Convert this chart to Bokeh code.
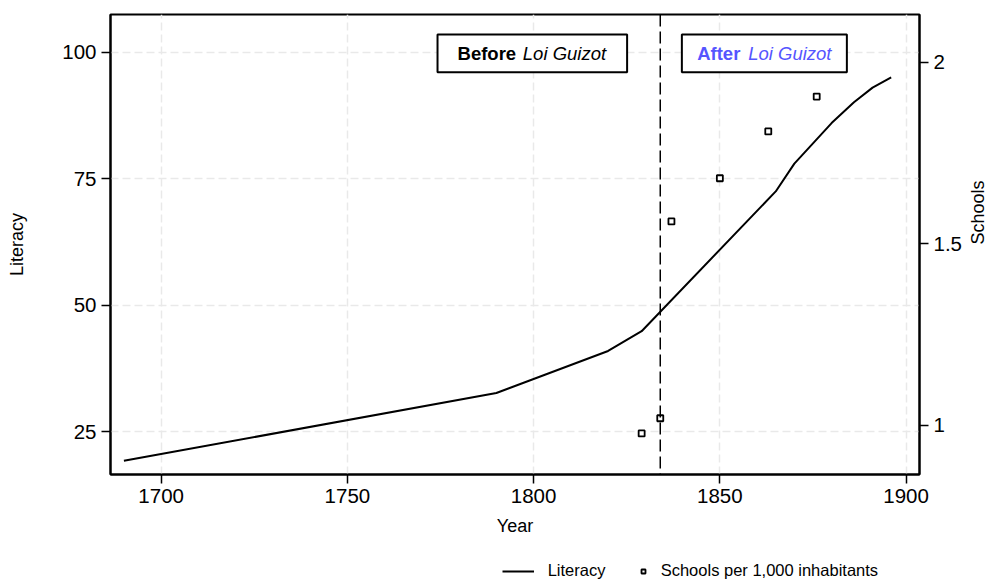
from bokeh.plotting import figure
from bokeh.layouts import column
from bokeh.models import (Range1d, LinearAxis, FixedTicker, Span, BoxAnnotation,
                          Label, Legend, LegendItem)
from bokeh.embed import file_html
from bokeh.resources import INLINE
import math

# ---- data ----
years = [1690, 1790, 1820, 1829, 1865, 1870, 1880, 1886, 1891, 1896]
literacy = [19.3, 32.7, 41.0, 44.9, 72.5, 78.0, 86.0, 90.1, 93.0, 95.0]
school_years = [1829, 1834, 1837, 1850, 1863, 1876]
schools = [0.977, 1.019, 1.561, 1.680, 1.809, 1.905]
x_ticks = [1700, 1750, 1800, 1850, 1900]
left_ticks = [25, 50, 75, 100]
right_ticks = [1, 1.5, 2]
right_tick_labels = ["1", "1.5", "2"]
guizot_year = 1834
series_names = ["Literacy", "Schools per 1,000 inhabitants"]

FONT = "Liberation Sans"
TICK_FS = "20.5px"
LABEL_FS = "18px"

p = figure(width=1000, height=551,
           x_range=Range1d(1686.4, 1903.6), y_range=Range1d(16.6, 107.44),
           output_backend="svg", toolbar_location=None,
           min_border_left=110, min_border_right=80, min_border_top=14,
           min_border_bottom=77,
           x_axis_label="Year", y_axis_label="Literacy")
p.extra_y_ranges = {"schools": Range1d(0.864, 2.131)}

p.outline_line_color = "black"
p.outline_line_width = 2
p.background_fill_color = "white"
p.border_fill_color = "white"

p.xaxis.ticker = FixedTicker(ticks=x_ticks)
p.yaxis.ticker = FixedTicker(ticks=left_ticks)

right = LinearAxis(y_range_name="schools", axis_label="Schools",
                   ticker=FixedTicker(ticks=right_ticks),
                   major_label_overrides=dict(zip(right_ticks, right_tick_labels)))
p.add_layout(right, "right")

for ax in p.axis:
    ax.axis_line_color = "black"
    ax.axis_line_width = 2
    ax.major_tick_line_color = "black"
    ax.major_tick_line_width = 1.5
    ax.major_tick_out = 9
    ax.major_tick_in = 0
    ax.minor_tick_line_color = None
    ax.major_label_text_font = FONT
    ax.major_label_text_font_size = TICK_FS
    ax.major_label_text_color = "black"
    ax.axis_label_text_font = FONT
    ax.axis_label_text_font_size = LABEL_FS
    ax.axis_label_text_font_style = "normal"
    ax.axis_label_text_color = "black"
    ax.major_label_standoff = 5

p.xaxis.major_label_standoff = 5
p.xaxis.axis_label_standoff = 10
p.yaxis[0].axis_label_standoff = 32
right.axis_label_standoff = 13
right.axis_label_orientation = math.pi / 2

p.xgrid.ticker = FixedTicker(ticks=x_ticks)
p.xgrid.grid_line_color = "#e9e9e9"
p.xgrid.grid_line_dash = "8 4"
p.xgrid.grid_line_width = 1.5
p.ygrid.grid_line_color = "#e9e9e9"
p.ygrid.grid_line_dash = "8 4"
p.ygrid.grid_line_width = 1.5

line_style = dict(line_width=2, line_color="black")
sq_style = dict(marker="square", size=6, line_color="black", line_width=1.8,
                fill_color="white")

p.line(years, literacy, **line_style)
p.scatter(school_years, schools, y_range_name="schools", **sq_style)

p.add_layout(Span(location=guizot_year, dimension="height", line_color="black",
                  line_dash="12 5", line_width=1.5))

# annotation boxes
box_bottom, box_top, text_y = 96.05, 103.5, 99.8
for lft, rgt in [(1774.2, 1825.1), (1839.8, 1884.1)]:
    p.add_layout(BoxAnnotation(left=lft, right=rgt, bottom=box_bottom, top=box_top,
                               fill_color="white", fill_alpha=1, line_color="black",
                               line_alpha=1, line_width=2))
BOX_FS = "18.5px"
p.add_layout(Label(x=1795.3, y=text_y, text="Before", text_align="right",
                   text_baseline="middle", text_font=FONT, text_font_size=BOX_FS,
                   text_font_style="bold", text_color="black"))
p.add_layout(Label(x=1797.1, y=text_y, text="Loi Guizot", text_align="left",
                   text_baseline="middle", text_font=FONT, text_font_size=BOX_FS,
                   text_font_style="italic", text_color="black"))
BLUE = "#5555ff"
p.add_layout(Label(x=1855.5, y=text_y, text="After", text_align="right",
                   text_baseline="middle", text_font=FONT, text_font_size=BOX_FS,
                   text_font_style="bold", text_color=BLUE))
p.add_layout(Label(x=1857.6, y=text_y, text="Loi Guizot", text_align="left",
                   text_baseline="middle", text_font=FONT, text_font_size=BOX_FS,
                   text_font_style="italic", text_color=BLUE))

# ---- legend strip below the chart (its frame is aligned with the chart's) ----
lg = figure(width=1000, height=29, output_backend="svg", toolbar_location=None,
            x_range=Range1d(0, 1), y_range=Range1d(0, 1),
            x_axis_type=None, y_axis_type=None,
            min_border_left=110, min_border_right=80, min_border_top=0,
            min_border_bottom=0)
lg.outline_line_color = None
lg.grid.visible = False
lg.background_fill_color = "white"
lg.border_fill_color = "white"
# same series, outside this strip's ranges: only their legend swatches show
lg_line = lg.line(years, literacy, **line_style)
lg_sq = lg.scatter(school_years, schools, **sq_style)

common = dict(orientation="horizontal", padding=0, margin=0, border_line_color=None,
              background_fill_alpha=0, label_text_font=FONT,
              label_text_font_size="16.5px", glyph_height=14, label_height=14,
              label_text_color="black")
lg.add_layout(Legend(items=[LegendItem(label=series_names[0], renderers=[lg_line])],
                     location=(391.7, 0), glyph_width=32, label_standoff=14, **common))
lg.add_layout(Legend(items=[LegendItem(label=series_names[1], renderers=[lg_sq])],
                     location=(527.7, 0), glyph_width=10, label_standoff=13, **common))

layout = column(p, lg, spacing=0)
open("out.html", "w").write(file_html(layout, INLINE))
